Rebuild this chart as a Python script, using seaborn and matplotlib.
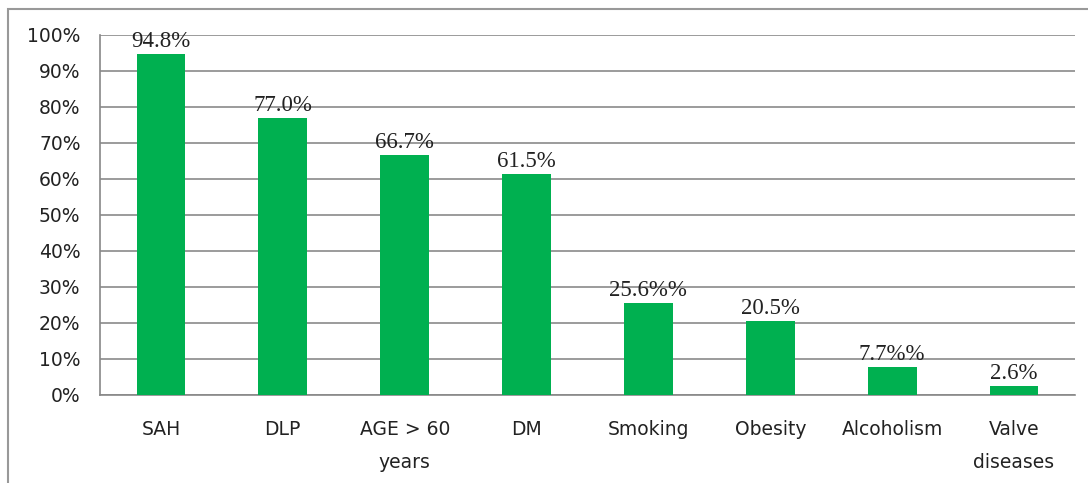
import matplotlib
matplotlib.use("Agg")
import matplotlib.pyplot as plt
import seaborn as sns
import pandas as pd
from matplotlib.patches import Rectangle

categories = ["SAH", "DLP", "AGE > 60\nyears", "DM", "Smoking", "Obesity", "Alcoholism", "Valve\ndiseases"]
values = [94.8, 77.0, 66.7, 61.5, 25.6, 20.5, 7.7, 2.6]
labels = ["94.8%", "77.0%", "66.7%", "61.5%", "25.6%%", "20.5%", "7.7%%", "2.6%"]
yticks = [0, 10, 20, 30, 40, 50, 60, 70, 80, 90, 100]

sns.set_style("white")
plt.rcParams['font.family'] = ['DejaVu Sans']

fig = plt.figure(figsize=(10.88, 4.83), dpi=100)
ax = fig.add_axes([100/1088, 1 - 395/483, 975/1088, 360/483])

df = pd.DataFrame({"cat": categories, "val": values})
sns.barplot(data=df, x="cat", y="val", color="#00B050", saturation=1, width=0.4,
            linewidth=0, edgecolor="none", ax=ax, zorder=3)

ax.set_ylim(0, 100)
ax.set_xlim(-0.5, len(categories) - 0.5)
ax.set_yticks(yticks)
ax.set_yticklabels([f"{t}%" for t in yticks], fontsize=13.5, color="#222222")
ax.tick_params(axis="x", length=0, labelsize=13.5, labelcolor="#222222", pad=18)
ax.tick_params(axis="y", length=4, color="#888888", width=1.2, pad=10)
ax.yaxis.grid(True, color="#8a8a8a", linewidth=1.2, zorder=0)
ax.set_axisbelow(True)
ax.set_xlabel("")
ax.set_ylabel("")
for s in ["top", "right"]:
    ax.spines[s].set_visible(False)
for s in ["left", "bottom"]:
    ax.spines[s].set_color("#888888")
    ax.spines[s].set_linewidth(1.2)

ax.set_xticks(range(len(categories)))
ax.set_xticklabels(categories, linespacing=1.9)
ax.set_xticks([i - 0.5 for i in range(len(categories) + 1)], minor=True)
ax.tick_params(axis="x", which="minor", length=6, color="#888888", width=1.2, direction="out")

for i, (v, lab) in enumerate(zip(values, labels)):
    ax.text(i, v + 0.5, lab, ha="center", va="bottom", fontsize=16.5,
            family="Liberation Serif", color="#222222")

fig.patches.append(Rectangle((8/1088, -0.1), 1.2, 1 - 9/483 + 0.1, transform=fig.transFigure,
                             fill=False, edgecolor="#999999", linewidth=1.5))

fig.savefig("out.png", dpi=100)
